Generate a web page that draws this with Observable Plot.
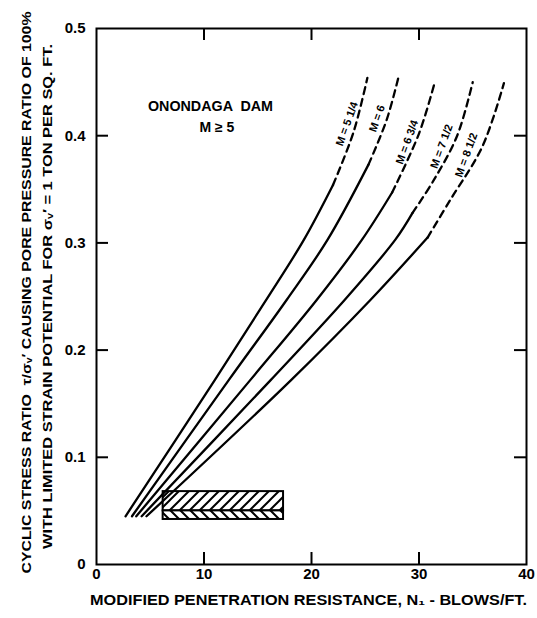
<!DOCTYPE html>
<html><head><meta charset="utf-8">
<script src="https://cdn.jsdelivr.net/npm/d3@7"></script>
<script src="https://cdn.jsdelivr.net/npm/@observablehq/plot@0.6"></script>
<style>
html,body{margin:0;padding:0;background:#fff;}
#chart svg{display:block;}
</style></head><body><div id="chart"></div>
<script>
// ---- data ----
const magnitudes = ["M = 5 1/4", "M = 6", "M = 6 3/4", "M = 7 1/2", "M = 8 1/2"];

const solid525 = [[2.7,0.045],[11.0,0.172],[15.8,0.247],[19.3,0.303],[22.0,0.354]];
const dashed525 = [[22.0,0.354],[23.9,0.403],[25.2,0.454]];
const solid6 = [[3.3,0.045],[12.3,0.172],[17.7,0.247],[21.5,0.303],[25.3,0.373]];
const dashed6 = [[25.3,0.373],[27.0,0.415],[28.1,0.455]];
const solid675 = [[3.7,0.045],[14.3,0.172],[20.5,0.247],[24.7,0.303],[27.5,0.347]];
const dashed675 = [[27.5,0.347],[30.0,0.402],[31.5,0.451]];
const solid75 = [[4.2,0.045],[16.2,0.172],[23.1,0.247],[27.8,0.303],[29.4,0.328]];
const dashed75 = [[29.4,0.328],[31.4,0.359],[33.55,0.40],[35.0,0.45]];
const solid85 = [[4.65,0.045],[18.1,0.172],[25.5,0.247],[30.8,0.305]];
const dashed85 = [[30.8,0.305],[32.9,0.34],[35.9,0.39],[37.9,0.449]];

const labelX = [23.3, 26.1, 28.9, 32.1, 34.4];
const labelY = [0.411, 0.416, 0.394, 0.390, 0.382];

// hatched field-data box
const boxX = [6.2, 17.4];
const boxUpperY = [0.050, 0.068];
const boxLowerY = [0.042, 0.050];

const noteText = ["ONONDAGA  DAM", "M \u2265 5"];
const noteX = [10.6, 11.2];
const noteY = [0.427, 0.408];

const xTicks = [0, 10, 20, 30, 40];
const yTicks = [0, 0.1, 0.2, 0.3, 0.4, 0.5];
const xInnerTicks = [10, 20, 30];
const yInnerTicks = [0.1, 0.2, 0.3, 0.4];

const yLabel1 = "CYCLIC STRESS RATIO  \u03C4/\u03C3\u1D65\u2032 CAUSING PORE PRESSURE RATIO OF 100%";
const yLabel2 = "WITH LIMITED STRAIN POTENTIAL FOR \u03C3\u1D65\u2032 = 1 TON PER SQ. FT.";
const xLabel = "MODIFIED PENETRATION RESISTANCE, N\u2081 - BLOWS/FT.";

// ---- build tables ----
const solids = [solid525, solid6, solid675, solid75, solid85];
const dashes = [dashed525, dashed6, dashed675, dashed75, dashed85];
const solidRows = solids.flatMap((pts, i) => pts.map(([x, y]) => ({m: magnitudes[i], x, y})));
const dashRows = dashes.flatMap((pts, i) => pts.map(([x, y]) => ({m: magnitudes[i], x, y})));
const labelRows = magnitudes.map((m, i) => ({text: m, x: labelX[i], y: labelY[i]}));
const noteRows = noteText.map((t, i) => ({text: t, x: noteX[i], y: noteY[i]}));
const boxUpper = [{x1: boxX[0], x2: boxX[1], y1: boxUpperY[0], y2: boxUpperY[1]}];
const boxLower = [{x1: boxX[0], x2: boxX[1], y1: boxLowerY[0], y2: boxLowerY[1]}];

const W = 537, H = 618, mL = 96, mR = 11, mT = 28, mB = 54;
const innerW = W - mL - mR, innerH = H - mT - mB;
const font = "'Liberation Sans', Arial, sans-serif";

const plot = Plot.plot({
  width: W, height: H,
  marginLeft: mL, marginRight: mR, marginTop: mT, marginBottom: mB,
  x: {domain: [0, 40]},
  y: {domain: [0, 0.5]},
  style: {fontFamily: font, fontSize: "14px", background: "#fff", color: "#000"},
  marks: [
    Plot.rect(boxUpper, {x1: "x1", x2: "x2", y1: "y1", y2: "y2", fill: "url(#hatchUp)", stroke: "black", strokeWidth: 2}),
    Plot.rect(boxLower, {x1: "x1", x2: "x2", y1: "y1", y2: "y2", fill: "url(#hatchDown)", stroke: "black", strokeWidth: 2}),
    Plot.line(solidRows, {x: "x", y: "y", z: "m", curve: "catmull-rom", stroke: "black", strokeWidth: 2.3}),
    Plot.line(dashRows, {x: "x", y: "y", z: "m", curve: "catmull-rom", stroke: "black", strokeWidth: 2.3, strokeDasharray: "7,5"}),
    Plot.frame({stroke: "black", strokeWidth: 2}),
    Plot.tickX(xInnerTicks, {x: d => d, insetTop: innerH - 12, stroke: "black", strokeWidth: 2}),
    Plot.tickX(xInnerTicks, {x: d => d, insetBottom: innerH - 12, stroke: "black", strokeWidth: 2}),
    Plot.tickY(yInnerTicks, {y: d => d, insetRight: innerW - 12, stroke: "black", strokeWidth: 2}),
    Plot.tickY(yInnerTicks, {y: d => d, insetLeft: innerW - 12, stroke: "black", strokeWidth: 2}),
    Plot.axisX(xTicks, {tickSize: 0, tickPadding: 4, label: null, fontSize: 15, fontWeight: "bold", tickFormat: d => String(d)}),
    Plot.axisY(yTicks, {tickSize: 0, tickPadding: 11, label: null, fontSize: 15, fontWeight: "bold", tickFormat: d => d === 0 ? "0" : d3.format(".1f")(d)}),
    Plot.text(labelRows, {x: "x", y: "y", text: "text", rotate: -70, fontSize: 11, fontWeight: "bold"}),
    Plot.text(noteRows, {x: "x", y: "y", text: "text", fontSize: 14, fontWeight: "bold"}),
    Plot.text([yLabel1], {text: d => d, frameAnchor: "left", textAnchor: "middle", dx: -70, dy: -4, rotate: -90, fontSize: 13, fontWeight: "bold"}),
    Plot.text([yLabel2], {text: d => d, frameAnchor: "left", textAnchor: "middle", dx: -49, dy: 0, rotate: -90, fontSize: 13, fontWeight: "bold"}),
    Plot.text([xLabel], {text: d => d, frameAnchor: "bottom", dx: -3, dy: 40, fontSize: 14, fontWeight: "bold"})
  ]
});

const svg = d3.select(plot);
const defs = svg.insert("defs", ":first-child");
const p1 = defs.append("pattern").attr("id", "hatchUp").attr("patternUnits", "userSpaceOnUse").attr("width", 10).attr("height", 10);
p1.append("rect").attr("width", 10).attr("height", 10).attr("fill", "white");
p1.append("path").attr("d", "M-2,12 L12,-2 M-3,3 L3,-3 M7,13 L13,7").attr("stroke", "black").attr("stroke-width", 2);
const p2 = defs.append("pattern").attr("id", "hatchDown").attr("patternUnits", "userSpaceOnUse").attr("width", 10).attr("height", 10);
p2.append("rect").attr("width", 10).attr("height", 10).attr("fill", "white");
p2.append("path").attr("d", "M-2,-2 L12,12 M-3,7 L3,13 M7,-3 L13,3").attr("stroke", "black").attr("stroke-width", 2);

const fits = new Map([[yLabel1, 562], [yLabel2, 505], [xLabel, 437], ["ONONDAGA  DAM", 125]]);
svg.selectAll("text").each(function() {
  const t = this.textContent;
  if (fits.has(t)) {
    d3.select(this).attr("textLength", fits.get(t)).attr("lengthAdjust", "spacingAndGlyphs");
  }
});

document.getElementById("chart").appendChild(plot);
</script>
</body></html>
